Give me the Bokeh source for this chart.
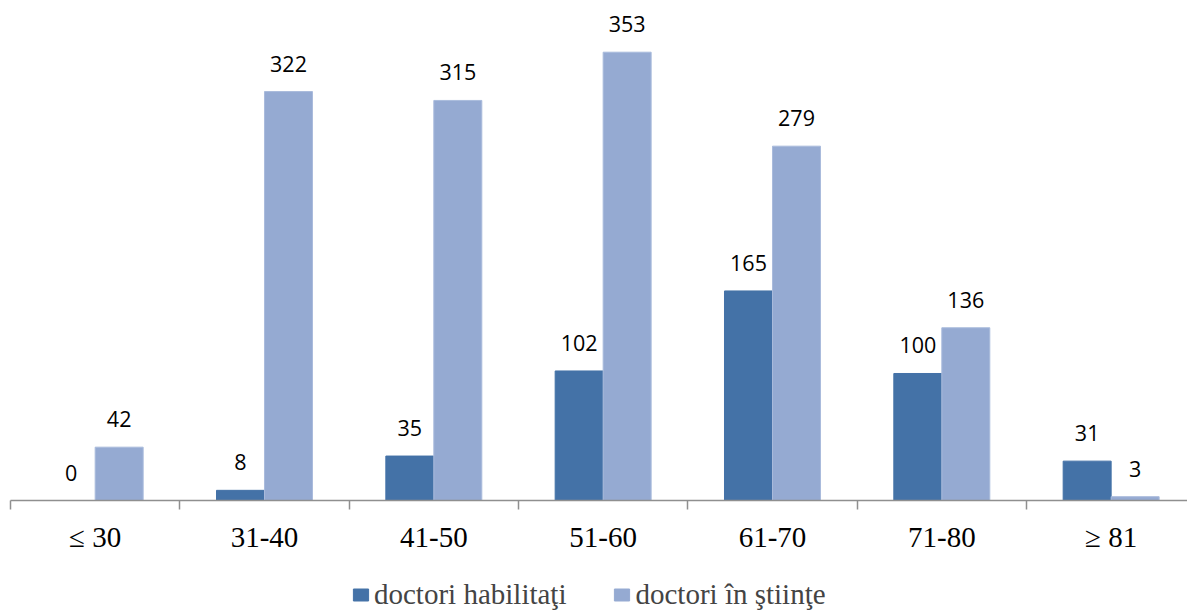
from bokeh.plotting import figure
from bokeh.models import FixedTicker, Legend, LegendItem, ColumnDataSource, Range1d
from bokeh.layouts import column
from bokeh.core.properties import value
from bokeh.embed import file_html
from bokeh.resources import INLINE

categories = ["≤ 30", "31-40", "41-50", "51-60", "61-70", "71-80", "≥ 81"]
habilitati = [0, 8, 35, 102, 165, 100, 31]
stiinte = [42, 322, 315, 353, 279, 136, 3]
series_names = ["doctori habilitaţi", "doctori în ştiinţe"]

DARK = "#4472A7"
LIGHT = "#95AAD2"
BW = 0.2834

centers = [i + 0.5 for i in range(len(categories))]
src = ColumnDataSource(dict(
    xd=[c - BW / 2 for c in centers],
    xl=[c + BW / 2 for c in centers],
    h=habilitati,
    s=stiinte,
    hl=[str(v) for v in habilitati],
    sl=[str(v) for v in stiinte],
))

p = figure(width=1187, height=560, output_backend="svg", toolbar_location=None,
           x_range=Range1d(0, 1177 / 169.33), y_range=Range1d(0, 393.7),
           min_border_left=10, min_border_right=0, min_border_top=0, min_border_bottom=60)
p.outline_line_color = None
p.background_fill_color = "white"
p.border_fill_color = "white"
p.grid.visible = False
p.yaxis.visible = False

r1 = p.vbar(x="xd", top="h", width=BW, source=src, fill_color=DARK, line_color=DARK)
r2 = p.vbar(x="xl", top="s", width=BW, source=src, fill_color=LIGHT, line_color="#A9BBDC")

for col, xc, ycol in (("hl", "xd", "h"), ("sl", "xl", "s")):
    p.text(x=xc, y=ycol, text=col, source=src, y_offset=-28, text_align="center",
           text_baseline="alphabetic", text_font=value("Open Sans"),
           text_font_size="21.5px", text_color="black")

ax = p.xaxis[0]
ax.ticker = FixedTicker(ticks=centers, minor_ticks=list(range(len(categories) + 1)))
ax.major_label_overrides = {c: lab for c, lab in zip(centers, categories)}
ax.major_tick_out = 0
ax.major_tick_in = 0
ax.minor_tick_out = 9
ax.minor_tick_in = 0
ax.axis_line_color = "#8F8F8F"
ax.axis_line_width = 1.5
ax.minor_tick_line_color = "#8F8F8F"
ax.minor_tick_line_width = 1.5
ax.major_label_text_font = "Liberation Serif"
ax.major_label_text_font_size = "29px"
ax.major_label_text_color = "black"
ax.major_label_standoff = 11

# legend strip below the chart (series glyphs drawn off-view, only used as legend keys)
p2 = figure(width=1187, height=50, output_backend="svg", toolbar_location=None,
            x_range=Range1d(0, 7), y_range=Range1d(1000, 1001),
            min_border_left=0, min_border_right=0, min_border_top=0, min_border_bottom=0)
p2.outline_line_color = None
p2.grid.visible = False
p2.axis.visible = False
l1 = p2.vbar(x="xd", top="h", width=BW, source=src, fill_color=DARK, line_color=DARK)
l2 = p2.vbar(x="xl", top="s", width=BW, source=src, fill_color=LIGHT, line_color=LIGHT)

legend = Legend(items=[LegendItem(label=series_names[0], renderers=[l1]),
                       LegendItem(label=series_names[1], renderers=[l2])],
                orientation="horizontal", location=(341, -1),
                label_text_font="Liberation Serif", label_text_font_size="29px",
                glyph_width=19, glyph_height=15, spacing=46, label_standoff=4,
                padding=0, margin=0, border_line_alpha=0, background_fill_alpha=0)
p2.add_layout(legend, "center")

layout = column(p, p2, spacing=0)
open("out.html", "w").write(file_html(layout, INLINE))
